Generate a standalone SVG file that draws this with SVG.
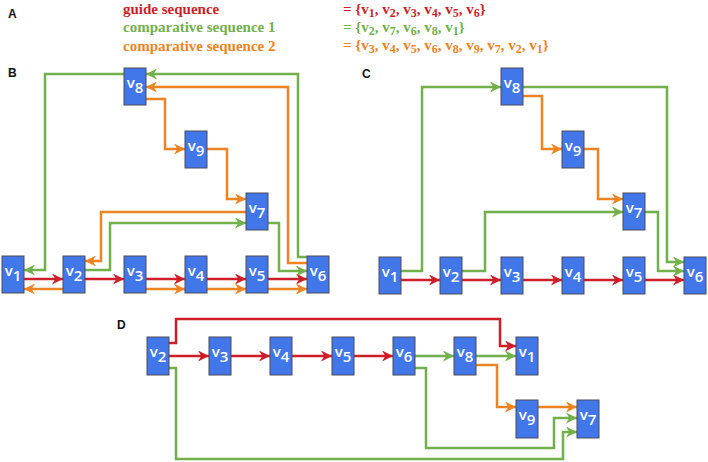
<svg xmlns="http://www.w3.org/2000/svg" width="708" height="462" viewBox="0 0 708 462">
<style>
.nd{fill:#4277ea;stroke:#4a4a5a;stroke-width:1}
.nt{font-family:"Open Sans","Liberation Sans",sans-serif;font-size:15px;fill:#fff;text-anchor:middle;font-weight:600}
.lb{font-family:"Liberation Sans",Arial,sans-serif;font-size:12px;font-weight:bold;fill:#111}
.hd{font-family:"Liberation Serif","Times New Roman",serif;font-size:15px;font-weight:bold}
.s{font-size:12px}
.r{stroke:#cc1f2a}
.g{stroke:#72b04c}
.o{stroke:#ec8424}
.e path{fill:none;stroke-width:2.5}
.e .r{marker-end:url(#ar)}
.e .g{marker-end:url(#ag)}
.e .o{marker-end:url(#ao)}
</style>
<defs>
<marker id="ar" viewBox="0 0 10 10" refX="10" refY="5" markerWidth="11" markerHeight="11" markerUnits="userSpaceOnUse" orient="auto"><path d="M0,0 L10,5 L0,10 L3,5 z" fill="#cc1f2a"/></marker>
<marker id="ag" viewBox="0 0 10 10" refX="10" refY="5" markerWidth="11" markerHeight="11" markerUnits="userSpaceOnUse" orient="auto"><path d="M0,0 L10,5 L0,10 L3,5 z" fill="#72b04c"/></marker>
<marker id="ao" viewBox="0 0 10 10" refX="10" refY="5" markerWidth="11" markerHeight="11" markerUnits="userSpaceOnUse" orient="auto"><path d="M0,0 L10,5 L0,10 L3,5 z" fill="#ec8424"/></marker>
</defs>

<g id="header">
<text class="lb" x="8" y="18">A</text>
<text class="hd" x="123" y="14" fill="#cc1f2a">guide sequence</text>
<text class="hd" x="123" y="32" fill="#72b04c">comparative sequence 1</text>
<text class="hd" x="123" y="50.5" fill="#ec8424">comparative sequence 2</text>
<text class="hd" x="343" y="13.5" fill="#cc1f2a">= {v<tspan class="s" dy="3">1</tspan><tspan dy="-3">, v</tspan><tspan class="s" dy="3">2</tspan><tspan dy="-3">, v</tspan><tspan class="s" dy="3">3</tspan><tspan dy="-3">, v</tspan><tspan class="s" dy="3">4</tspan><tspan dy="-3">, v</tspan><tspan class="s" dy="3">5</tspan><tspan dy="-3">, v</tspan><tspan class="s" dy="3">6</tspan><tspan dy="-3">}</tspan></text>
<text class="hd" x="343" y="31.5" fill="#72b04c">= {v<tspan class="s" dy="3">2</tspan><tspan dy="-3">, v</tspan><tspan class="s" dy="3">7</tspan><tspan dy="-3">, v</tspan><tspan class="s" dy="3">6</tspan><tspan dy="-3">, v</tspan><tspan class="s" dy="3">8</tspan><tspan dy="-3">, v</tspan><tspan class="s" dy="3">1</tspan><tspan dy="-3">}</tspan></text>
<text class="hd" x="343" y="50" fill="#ec8424">= {v<tspan class="s" dy="3">3</tspan><tspan dy="-3">, v</tspan><tspan class="s" dy="3">4</tspan><tspan dy="-3">, v</tspan><tspan class="s" dy="3">5</tspan><tspan dy="-3">, v</tspan><tspan class="s" dy="3">6</tspan><tspan dy="-3">, v</tspan><tspan class="s" dy="3">8</tspan><tspan dy="-3">, v</tspan><tspan class="s" dy="3">9</tspan><tspan dy="-3">, v</tspan><tspan class="s" dy="3">7</tspan><tspan dy="-3">, v</tspan><tspan class="s" dy="3">2</tspan><tspan dy="-3">, v</tspan><tspan class="s" dy="3">1</tspan><tspan dy="-3">}</tspan></text>
<text class="lb" x="8" y="77">B</text>
<text class="lb" x="362" y="78">C</text>
<text class="lb" x="117" y="329">D</text>
</g>

<g id="connectors" class="e">
<!-- B -->
<path class="r" d="M24,279 H63"/>
<path class="r" d="M85,279 H124"/>
<path class="r" d="M146,279 H185"/>
<path class="r" d="M207,279 H246"/>
<path class="r" d="M268,279 H307"/>
<path class="o" d="M63,289 H24"/>
<path class="o" d="M146,289 H185"/>
<path class="o" d="M207,289 H246"/>
<path class="o" d="M268,289 H307"/>
<path class="o" d="M307,263 H288 V87 H146"/>
<path class="g" d="M307,257 H298 V74 H146"/>
<path class="g" d="M124,74 H45 V270 H24"/>
<path class="o" d="M146,99 H165 V149 H185"/>
<path class="o" d="M207,149 H227 V199 H246"/>
<path class="o" d="M246,212 H101 V261 H85"/>
<path class="g" d="M85,270 H110 V223 H246"/>
<path class="g" d="M268,223 H279 V271 H307"/>
<!-- C -->
<path class="r" d="M401,280 H440"/>
<path class="r" d="M462,280 H501"/>
<path class="r" d="M523,280 H562"/>
<path class="r" d="M584,280 H623"/>
<path class="r" d="M645,280 H684"/>
<path class="g" d="M401,271 H422 V87 H501"/>
<path class="g" d="M523,87 H667 V262 H684"/>
<path class="g" d="M462,271 H485 V212 H623"/>
<path class="g" d="M645,212 H658 V271 H684"/>
<path class="o" d="M523,96 H542 V149 H562"/>
<path class="o" d="M584,149 H598 V199 H623"/>
<!-- D -->
<path class="r" d="M169,356 H209"/>
<path class="r" d="M231,356 H270"/>
<path class="r" d="M292,356 H332"/>
<path class="r" d="M354,356 H393"/>
<path class="g" d="M415,356 H454"/>
<path class="g" d="M476,356 H516"/>
<path class="r" d="M169,343 H176 V319 H500 V346 H516"/>
<path class="o" d="M476,365 H497 V407 H516"/>
<path class="o" d="M538,407 H577"/>
<path class="g" d="M415,368 H426 V448 H554 V418 H577"/>
<path class="g" d="M169,368 H176 V459 H563 V432 H577"/>
</g>

<!-- Panel B nodes -->
<g id="B_v1"><rect class="nd" x="2" y="256" width="22" height="37"/><text class="nt" x="13" y="275.5">v<tspan dy="5">1</tspan></text></g>
<g id="B_v2"><rect class="nd" x="63" y="256" width="22" height="37"/><text class="nt" x="74" y="275.5">v<tspan dy="5">2</tspan></text></g>
<g id="B_v3"><rect class="nd" x="124" y="256" width="22" height="37"/><text class="nt" x="135" y="275.5">v<tspan dy="5">3</tspan></text></g>
<g id="B_v4"><rect class="nd" x="185" y="256" width="22" height="37"/><text class="nt" x="196" y="275.5">v<tspan dy="5">4</tspan></text></g>
<g id="B_v5"><rect class="nd" x="246" y="256" width="22" height="37"/><text class="nt" x="257" y="275.5">v<tspan dy="5">5</tspan></text></g>
<g id="B_v6"><rect class="nd" x="307" y="256" width="22" height="37"/><text class="nt" x="318" y="275.5">v<tspan dy="5">6</tspan></text></g>
<g id="B_v7"><rect class="nd" x="246" y="193" width="22" height="37"/><text class="nt" x="257" y="212.5">v<tspan dy="5">7</tspan></text></g>
<g id="B_v8"><rect class="nd" x="124" y="68" width="22" height="37"/><text class="nt" x="135" y="87.5">v<tspan dy="5">8</tspan></text></g>
<g id="B_v9"><rect class="nd" x="185" y="131" width="22" height="37"/><text class="nt" x="196" y="150.5">v<tspan dy="5">9</tspan></text></g>

<!-- Panel C nodes -->
<g id="C_v1"><rect class="nd" x="379" y="257" width="22" height="37"/><text class="nt" x="390" y="276.5">v<tspan dy="5">1</tspan></text></g>
<g id="C_v2"><rect class="nd" x="440" y="257" width="22" height="37"/><text class="nt" x="451" y="276.5">v<tspan dy="5">2</tspan></text></g>
<g id="C_v3"><rect class="nd" x="501" y="257" width="22" height="37"/><text class="nt" x="512" y="276.5">v<tspan dy="5">3</tspan></text></g>
<g id="C_v4"><rect class="nd" x="562" y="257" width="22" height="37"/><text class="nt" x="573" y="276.5">v<tspan dy="5">4</tspan></text></g>
<g id="C_v5"><rect class="nd" x="623" y="257" width="22" height="37"/><text class="nt" x="634" y="276.5">v<tspan dy="5">5</tspan></text></g>
<g id="C_v6"><rect class="nd" x="684" y="257" width="22" height="37"/><text class="nt" x="695" y="276.5">v<tspan dy="5">6</tspan></text></g>
<g id="C_v7"><rect class="nd" x="623" y="193" width="22" height="37"/><text class="nt" x="634" y="212.5">v<tspan dy="5">7</tspan></text></g>
<g id="C_v8"><rect class="nd" x="501" y="68" width="22" height="37"/><text class="nt" x="512" y="87.5">v<tspan dy="5">8</tspan></text></g>
<g id="C_v9"><rect class="nd" x="562" y="131" width="22" height="37"/><text class="nt" x="573" y="150.5">v<tspan dy="5">9</tspan></text></g>

<!-- Panel D nodes -->
<g id="D_v2"><rect class="nd" x="147" y="337" width="22" height="38"/><text class="nt" x="158" y="356.5">v<tspan dy="5">2</tspan></text></g>
<g id="D_v3"><rect class="nd" x="209" y="337" width="22" height="38"/><text class="nt" x="220" y="356.5">v<tspan dy="5">3</tspan></text></g>
<g id="D_v4"><rect class="nd" x="270" y="337" width="22" height="38"/><text class="nt" x="281" y="356.5">v<tspan dy="5">4</tspan></text></g>
<g id="D_v5"><rect class="nd" x="332" y="337" width="22" height="38"/><text class="nt" x="343" y="356.5">v<tspan dy="5">5</tspan></text></g>
<g id="D_v6"><rect class="nd" x="393" y="337" width="22" height="38"/><text class="nt" x="404" y="356.5">v<tspan dy="5">6</tspan></text></g>
<g id="D_v8"><rect class="nd" x="454" y="337" width="22" height="38"/><text class="nt" x="465" y="356.5">v<tspan dy="5">8</tspan></text></g>
<g id="D_v1"><rect class="nd" x="516" y="337" width="22" height="38"/><text class="nt" x="527" y="356.5">v<tspan dy="5">1</tspan></text></g>
<g id="D_v9"><rect class="nd" x="516" y="400" width="22" height="38"/><text class="nt" x="527" y="419.5">v<tspan dy="5">9</tspan></text></g>
<g id="D_v7"><rect class="nd" x="577" y="400" width="22" height="38"/><text class="nt" x="588" y="419.5">v<tspan dy="5">7</tspan></text></g>
</svg>
